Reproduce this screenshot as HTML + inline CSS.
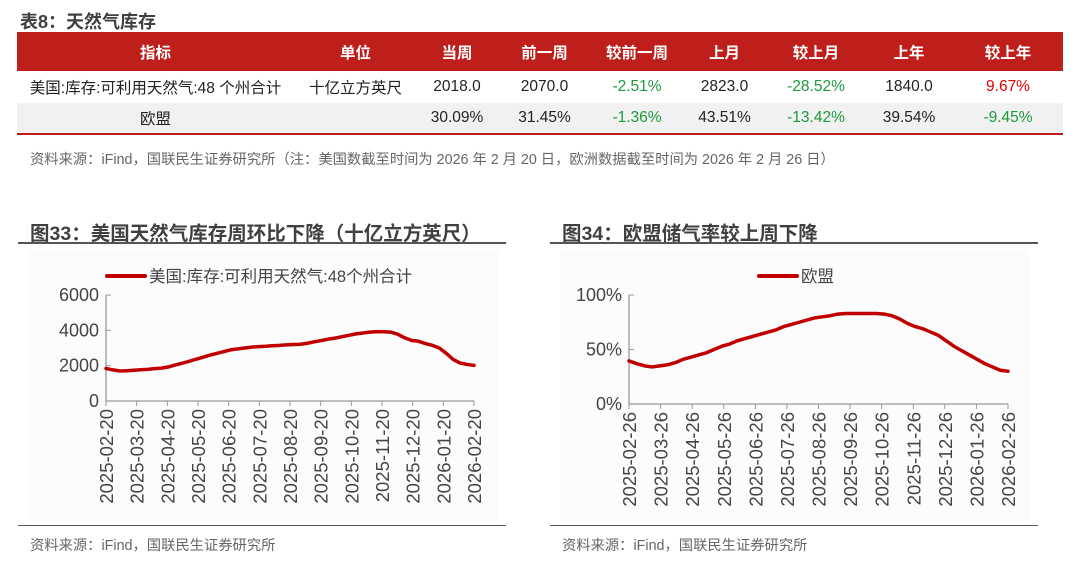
<!DOCTYPE html>
<html><head><meta charset="utf-8">
<style>
*{margin:0;padding:0;box-sizing:border-box}
body{width:1080px;height:562px;background:#fff;font-family:"Liberation Sans","Noto Sans CJK SC",sans-serif;position:relative;overflow:hidden;color:#222}
.abs{position:absolute}
.ttl{font-weight:bold;font-size:18px;color:#404040;white-space:nowrap}
.ttl2{font-size:19.5px}
table{position:absolute;left:17px;top:32px;width:1046px;border-collapse:collapse;font-size:15.5px}
td,th{text-align:center;white-space:nowrap}
th{background:#be1f1b;color:#fff;height:39px;font-weight:bold}
tr.r1 td{height:32px}
tr.r2 td{height:31px;background:#f1f1f1;border-bottom:2px solid #be1f1b}
.g{color:#1d9a3c}.rd{color:#e00000}
.src{font-size:14.3px;color:#666;white-space:nowrap}
</style></head><body>
<div class="abs ttl" style="left:20px;top:8px">表8：天然气库存</div>
<table>
<tr><th style="width:277px">指标</th><th style="width:123px">单位</th><th style="width:80px">当周</th><th style="width:95px">前一周</th><th style="width:90px">较前一周</th><th style="width:85px">上月</th><th style="width:98px">较上月</th><th style="width:88px">上年</th><th>较上年</th></tr>
<tr class="r1"><td>美国:库存:可利用天然气:48 个州合计</td><td>十亿立方英尺</td><td>2018.0</td><td>2070.0</td><td class="g">-2.51%</td><td>2823.0</td><td class="g">-28.52%</td><td>1840.0</td><td class="rd">9.67%</td></tr>
<tr class="r2"><td>欧盟</td><td></td><td>30.09%</td><td>31.45%</td><td class="g">-1.36%</td><td>43.51%</td><td class="g">-13.42%</td><td>39.54%</td><td class="g">-9.45%</td></tr>
</table>
<div class="abs src" style="left:30px;top:148px">资料来源：iFind，国联民生证券研究所（注：美国数截至时间为 2026 年 2 月 20 日，欧洲数据截至时间为 2026 年 2 月 26 日）</div>

<div class="abs ttl ttl2" style="left:30px;top:217px">图33：美国天然气库存周环比下降（十亿立方英尺）</div>
<div class="abs" style="left:18px;top:242px;width:488px;height:2px;background:#555"></div>
<div class="abs ttl ttl2" style="left:562px;top:217px">图34：欧盟储气率较上周下降</div>
<div class="abs" style="left:550px;top:242px;width:488px;height:2px;background:#555"></div>
<div class="abs" style="left:18px;top:525px;width:488px;height:1px;background:#555"></div>
<div class="abs" style="left:550px;top:525px;width:488px;height:1px;background:#555"></div>
<div class="abs src" style="left:30px;top:534px">资料来源：iFind，国联民生证券研究所</div>
<div class="abs src" style="left:562px;top:534px">资料来源：iFind，国联民生证券研究所</div>

<svg id="svg" class="abs" style="left:0;top:0" width="1080" height="562"></svg>
<script>
const usTicks=["2025-02-20","2025-03-20","2025-04-20","2025-05-20","2025-06-20","2025-07-20","2025-08-20","2025-09-20","2025-10-20","2025-11-20","2025-12-20","2026-01-20","2026-02-20"];
const usYTicks=[0,2000,4000,6000];
const usValues=[1840,1760,1700,1710,1740,1770,1790,1830,1860,1930,2040,2140,2250,2370,2480,2600,2700,2800,2900,2950,3000,3050,3080,3100,3130,3150,3180,3200,3210,3270,3350,3420,3500,3560,3640,3720,3800,3850,3900,3930,3920,3900,3780,3580,3430,3380,3250,3150,3000,2700,2350,2150,2070,2018];
const euTicks=["2025-02-26","2025-03-26","2025-04-26","2025-05-26","2025-06-26","2025-07-26","2025-08-26","2025-09-26","2025-10-26","2025-11-26","2025-12-26","2026-01-26","2026-02-26"];
const euYTicks=[0,50,100];
const euValues=[39.5,37,35,34,35,36,38,41,43,45,47,50,53,55,58,60,62,64,66,68,71,73,75,77,79,80,81,82.5,83,83,83,83,83,82.5,81,78,74,71,69,66,63,58,53,49,45,41,37,34,31,30.09];
const NS="http://www.w3.org/2000/svg";
const svg=document.getElementById('svg');
function mk(tag,attrs,parent){const e=document.createElementNS(NS,tag);for(const k in attrs)e.setAttribute(k,attrs[k]);(parent||svg).appendChild(e);return e;}
function chart(o){
  const g=mk('g',{});
  
  
  const bg=mk('rect',{x:o.bgx,y:250,width:470,height:272,fill:'#fcfcfc'},g);
  
  
  const y=v=>o.y0-(v-o.ymin)/(o.ymax-o.ymin)*(o.y0-o.y1);
  const tx=i=>o.x0+i*(o.x1-o.x0)/(o.ticks.length-1);
  const dx=i=>o.x0+i*(o.x1-o.x0)/(o.vals.length-1);
  const ax=mk('path',{d:`M${o.x0} ${o.y1}V${o.y0}H${o.x1}`,stroke:'#999',fill:'none','stroke-width':1.3},g);
  
  
  o.yt.forEach(v=>{
    mk('line',{x1:o.x0,x2:o.x0+5,y1:y(v),y2:y(v),stroke:'#999'},g);
    const t=mk('text',{x:o.x0-7,y:y(v)+6,'text-anchor':'end','font-size':18,fill:'#444'},g);
    t.textContent=o.fmt(v);
    
    
  });
  o.ticks.forEach((s,i)=>{
    mk('line',{x1:tx(i),x2:tx(i),y1:o.y0,y2:o.y0+5,stroke:'#999'},g);
    const t=mk('text',{x:0,y:0,transform:`translate(${tx(i)+7},${o.y0+8}) rotate(-90)`,'text-anchor':'end','font-size':18.5,fill:'#444'},g);
    t.textContent=s;
    
    
  });
  const p=mk('polyline',{points:o.vals.map((v,i)=>dx(i)+','+y(v)).join(' '),fill:'none',stroke:'#c00000','stroke-width':3.5,'stroke-linejoin':'round','stroke-linecap':'round'},g);
  
  
  const l=mk('line',{x1:o.lx,x2:o.lx+38,y1:276,y2:276,stroke:'#c00000','stroke-width':4,'stroke-linecap':'round'},g);
  
  
  const lt=mk('text',{x:o.lx+42,y:282,'font-size':16.5,fill:'#444'},g);
  lt.textContent=o.legend;
  
  
}
chart({name:'us-storage-chart',bgx:28,x0:106,x1:474,y0:401,y1:295,ymin:0,ymax:6000,ticks:usTicks,yt:usYTicks,vals:usValues,fmt:v=>String(v),lx:107,legend:'美国:库存:可利用天然气:48个州合计'});
chart({name:'eu-storage-chart',bgx:560,x0:629,x1:1008,y0:404,y1:295,ymin:0,ymax:100,ticks:euTicks,yt:euYTicks,vals:euValues,fmt:v=>v+'%',lx:759,legend:'欧盟'});
</script>
</body></html>
